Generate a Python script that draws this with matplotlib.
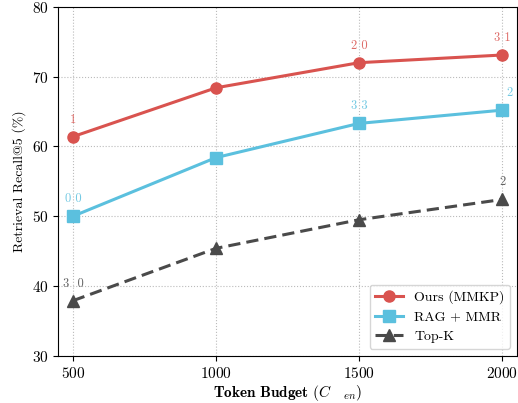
import numpy as np
import matplotlib
matplotlib.use('Agg')
import matplotlib.pyplot as plt

plt.rcParams['font.family'] = ['cmr10', 'DejaVu Serif']
plt.rcParams['mathtext.fontset'] = 'cm'
plt.rcParams['axes.unicode_minus'] = False
plt.rcParams['axes.formatter.use_mathtext'] = True

# data
budgets = [500, 1000, 1500, 2000]
ours = [61.4, 68.4, 72.0, 73.1]
rag_mmr = [50.0, 58.4, 63.3, 65.2]
topk = [37.9, 45.4, 49.5, 52.4]

# point labels (as rendered in the reference)
ours_notes = {500: '1', 1500: '2 0', 2000: '3 1'}
rag_notes = {500: '0 0', 1500: '3 3', 2000: '2'}
topk_notes = {500: '3  0', 2000: '2'}

red = '#d9534f'
blue = '#5bc0de'
gray = '#4a4a4a'

fig, ax = plt.subplots(figsize=(5.18, 4.03), dpi=100)

ax.plot(budgets, ours, '-o', color=red, linewidth=2.2, markersize=8, label='Ours (MMKP)', zorder=3)
ax.plot(budgets, rag_mmr, '-s', color=blue, linewidth=2.2, markersize=8, label='RAG + MMR', zorder=3)
ax.plot(budgets, topk, '--^', color=gray, linewidth=2.2, markersize=8, dashes=(4, 2), label='Top-K', zorder=3)

def notes(xs, ys, d, color, dx=0):
    for x, y in zip(xs, ys):
        if x in d:
            ax.annotate(d[x], (x, y), xytext=(dx if x == 2000 else 0, 8), textcoords='offset points',
                        ha='center', va='bottom', fontsize=9, color=color, alpha=0.85)

notes(budgets, ours, ours_notes, red)
notes(budgets, rag_mmr, rag_notes, blue, dx=5)
notes(budgets, topk, topk_notes, gray)

ax.set_xlim(448, 2052)
ax.set_ylim(30, 80)
ax.set_xticks(budgets)
ax.set_yticks([30, 40, 50, 60, 70, 80])
ax.tick_params(labelsize=11)
ax.grid(True, linestyle=':', color='#bbbbbb', linewidth=0.8)
ax.set_xlabel(r'$\mathbf{Token\ Budget}\ (C\quad{}_{en})$', fontsize=11, labelpad=2)
ax.set_ylabel('Retrieval Recall@5 (%)', fontsize=10)
ax.legend(loc='lower right', fontsize=10, frameon=True, fancybox=True, edgecolor='#cccccc')

plt.subplots_adjust(left=0.112, right=0.998, top=0.983, bottom=0.117)
plt.savefig('out.png', dpi=100)
